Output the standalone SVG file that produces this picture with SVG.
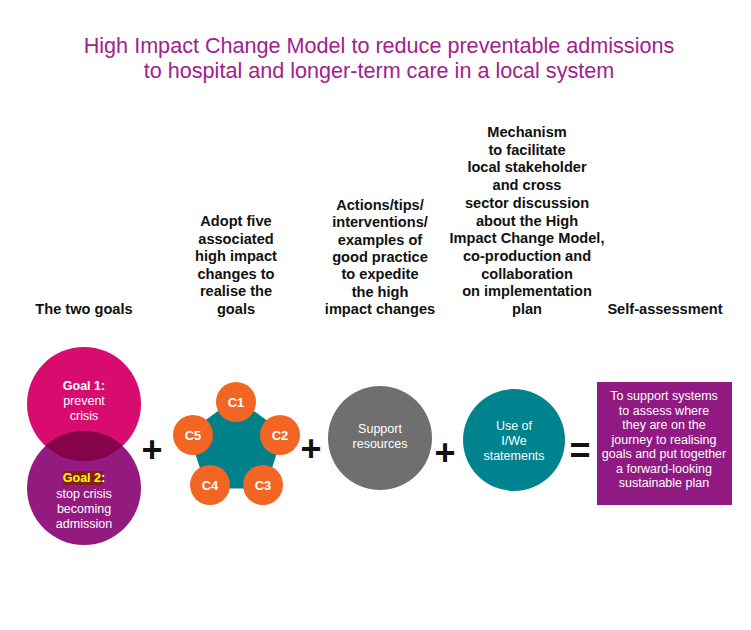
<svg xmlns="http://www.w3.org/2000/svg" width="751" height="630" viewBox="0 0 751 630">
<style>
.title{font-family:"Liberation Sans",Arial,sans-serif;font-size:21.6px;fill:#a0228c;text-anchor:middle}
.hdr{font-family:"Liberation Sans",Arial,sans-serif;font-size:14.6px;font-weight:bold;fill:#111;text-anchor:middle}
.wt{font-family:"Liberation Sans",Arial,sans-serif;font-size:12.5px;fill:#fff;text-anchor:middle}
.wb{font-family:"Liberation Sans",Arial,sans-serif;font-size:13px;font-weight:bold;fill:#fff;text-anchor:middle}
.op{font-family:"Liberation Sans",Arial,sans-serif;font-size:36px;font-weight:bold;fill:#111;text-anchor:middle}
.cc{fill:#f26522}
</style>
<rect width="751" height="630" fill="#fff"/>
<g id="title">
<text class="title" x="379" y="53">High Impact Change Model to reduce preventable admissions</text>
<text class="title" x="379" y="78">to hospital and longer-term care in a local system</text>
</g>
<g id="headers">
<text class="hdr" x="84" y="314">The two goals</text>
<text class="hdr" x="236"><tspan x="236" y="226">Adopt five</tspan><tspan x="236" y="243.6">associated</tspan><tspan x="236" y="261.2">high impact</tspan><tspan x="236" y="278.8">changes to</tspan><tspan x="236" y="296.4">realise the</tspan><tspan x="236" y="314">goals</tspan></text>
<text class="hdr" x="380"><tspan x="380" y="210">Actions/tips/</tspan><tspan x="380" y="227.3">interventions/</tspan><tspan x="380" y="244.7">examples of</tspan><tspan x="380" y="262">good practice</tspan><tspan x="380" y="279.3">to expedite</tspan><tspan x="380" y="296.7">the high</tspan><tspan x="380" y="314">impact changes</tspan></text>
<text class="hdr" x="527"><tspan x="527" y="137">Mechanism</tspan><tspan x="527" y="154.7">to facilitate</tspan><tspan x="527" y="172.4">local stakeholder</tspan><tspan x="527" y="190.1">and cross</tspan><tspan x="527" y="207.8">sector discussion</tspan><tspan x="527" y="225.5">about the High</tspan><tspan x="527" y="243.2">Impact Change Model,</tspan><tspan x="527" y="260.9">co-production and</tspan><tspan x="527" y="278.6">collaboration</tspan><tspan x="527" y="296.3">on implementation</tspan><tspan x="527" y="314">plan</tspan></text>
<text class="hdr" x="665" y="314">Self-assessment</text>
</g>
<g id="goals">
<defs><clipPath id="g1clip"><circle cx="84" cy="404" r="57"/></clipPath></defs>
<circle cx="84" cy="404" r="57" fill="#d80b6f"/>
<circle cx="84" cy="488" r="57" fill="#931b80"/>
<circle cx="84" cy="488" r="57" fill="#84034a" clip-path="url(#g1clip)"/>
<text class="wt" x="84"><tspan x="84" y="390" font-weight="bold">Goal 1:</tspan><tspan x="84" y="405">prevent</tspan><tspan x="84" y="420">crisis</tspan></text>
<rect x="63" y="471" width="40" height="14" fill="#8a1c1c"/>
<text class="wt" x="84"><tspan x="84" y="482" font-weight="bold"><tspan fill="#ffff00">Goal 2</tspan>:</tspan><tspan x="84" y="498">stop crisis</tspan><tspan x="84" y="513">becoming</tspan><tspan x="84" y="528">admission</tspan></text>
</g>
<g id="changes">
<polygon points="236,398 283.6,432.6 265.4,488.5 206.6,488.5 188.4,432.6" fill="#00818a"/>
<circle class="cc" cx="236" cy="402" r="20"/>
<circle class="cc" cx="280" cy="435" r="20"/>
<circle class="cc" cx="263" cy="485" r="20"/>
<circle class="cc" cx="210" cy="485" r="20"/>
<circle class="cc" cx="193" cy="435" r="20"/>
<text class="wb" x="236" y="407">C1</text>
<text class="wb" x="280" y="440">C2</text>
<text class="wb" x="263" y="490">C3</text>
<text class="wb" x="210" y="490">C4</text>
<text class="wb" x="193" y="440">C5</text>
</g>
<g id="support">
<circle cx="380" cy="438" r="52" fill="#6f6f6f"/>
<text class="wt" x="380"><tspan x="380" y="433">Support</tspan><tspan x="380" y="448">resources</tspan></text>
</g>
<g id="iwe">
<circle cx="514" cy="440" r="51" fill="#00838f"/>
<text class="wt" x="514"><tspan x="514" y="430">Use of</tspan><tspan x="514" y="445">I/We</tspan><tspan x="514" y="460">statements</tspan></text>
</g>
<g id="selfassess">
<rect x="597" y="382" width="135" height="123" fill="#901a82"/>
<text class="wt" x="664" font-size="12px"><tspan x="664" y="400">To support systems</tspan><tspan x="664" y="414.5">to assess where</tspan><tspan x="664" y="429">they are on the</tspan><tspan x="664" y="443.5">journey to realising</tspan><tspan x="664" y="458">goals and put together</tspan><tspan x="664" y="472.5">a forward-looking</tspan><tspan x="664" y="487">sustainable plan</tspan></text>
</g>
<g id="connectors">
<text class="op" x="152" y="462">+</text>
<text class="op" x="311" y="461">+</text>
<text class="op" x="445" y="465">+</text>
<text class="op" x="580" y="463">=</text>
</g>
</svg>
